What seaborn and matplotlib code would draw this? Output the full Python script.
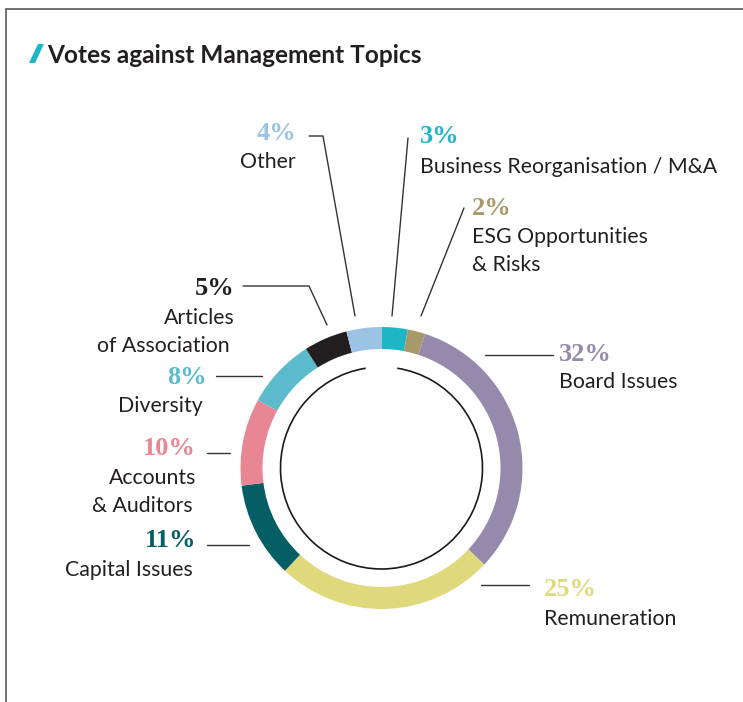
import numpy as np
import matplotlib
matplotlib.use("Agg")
import matplotlib.pyplot as plt
from matplotlib.patches import Arc, Polygon
import seaborn as sns

sns.set_style("white")
plt.rcParams['font.family'] = ['Lato', 'DejaVu Sans']

# data
categories = ["Business Reorganisation / M&A", "ESG Opportunities\n& Risks", "Board Issues",
              "Remuneration", "Capital Issues", "Accounts\n& Auditors", "Diversity",
              "Articles\nof Association", "Other"]
shares = [3, 2, 32, 25, 11, 10, 8, 5, 4]
pct_labels = ["3%", "2%", "32%", "25%", "11%", "10%", "8%", "5%", "4%"]
colors = ["#1fb5c9", "#a69a6a", "#958aab", "#e0d97c", "#055e63",
          "#e88694", "#5bbbcd", "#231f20", "#9cc3e3"]

W, H = 743, 702
CX, CY, R = 381.5, 468, 141   # ring centre / radius in px
TEXT = "#231f20"
LINE = "#333333"

# label layout (px, y down): pct anchor, name line anchors, leader line
layout = [
    dict(ha="left", pct=(420, 143), names=[(420, 173)], lead=[(408, 138), (392, 316)]),
    dict(ha="left", pct=(472, 215), names=[(472, 243), (472, 271)], lead=[(464, 208), (421, 316)]),
    dict(ha="left", pct=(559, 361), names=[(559, 388)], lead=[(553, 355), (485, 355)]),
    dict(ha="left", pct=(544, 596), names=[(544, 625)], lead=[(529, 585), (481, 585)]),
    dict(ha="right", pct=(196, 547), names=[(193, 576)], lead=[(207, 545), (249, 545)]),
    dict(ha="right", pct=(196, 455), names=[(196, 484), (193, 512)], lead=[(207, 453), (230, 453)]),
    dict(ha="right", pct=(207, 384), names=[(203, 412)], lead=[(216, 376), (262, 376)]),
    dict(ha="right", pct=(235, 295), names=[(235, 324), (230, 352)],
         lead=[(243, 286), (309, 286), (327, 325)]),
    dict(ha="right", pct=(296, 140), names=[(296, 168)], lead=[(309, 136), (323, 136), (355, 316)]),
]

fig = plt.figure(figsize=(W / 100, H / 100), dpi=100)
fig.patch.set_facecolor("white")

# donut
S = 160
pie_ax = fig.add_axes([(CX - S) / W, (H - CY - S) / H, 2 * S / W, 2 * S / H])
pal = sns.color_palette(colors)
pie_ax.pie(shares, colors=pal, startangle=90, counterclock=False, radius=R / S,
           wedgeprops=dict(width=22 / S, linewidth=0))
gap = 9
pie_ax.add_patch(Arc((0, 0), 2 * 101 / S, 2 * 101 / S, theta1=90 + gap, theta2=450 - gap,
                     color="#1a1a1a", lw=1.2))
pie_ax.set_xlim(-1, 1)
pie_ax.set_ylim(-1, 1)
pie_ax.axis("off")

# overlay in pixel coords
ax = fig.add_axes([0, 0, 1, 1], facecolor="none")
ax.set_xlim(0, W)
ax.set_ylim(H, 0)
ax.axis("off")

# frame lines
ax.plot([6, W], [9, 9], color="#666666", lw=1.3)
ax.plot([6, 6], [9, H], color="#666666", lw=1.3)

# title
ax.add_patch(Polygon([(29, 63), (35, 63), (44, 44), (38, 44)], closed=True, color="#1fb5c9", lw=0))
ax.text(47, 63, "Votes against Management Topics", fontsize=17.6, fontweight="bold",
        color=TEXT, va="baseline", ha="left")

for cat, pct, col, lay in zip(categories, pct_labels, colors, layout):
    ax.text(lay["pct"][0], lay["pct"][1], pct, fontsize=19, fontweight="bold",
            family=["Liberation Serif"], color=col, ha=lay["ha"], va="baseline")
    for line, (x, y) in zip(cat.split("\n"), lay["names"]):
        ax.text(x, y, line, fontsize=15.3, color=TEXT, ha=lay["ha"], va="baseline")
    xs, ys = zip(*lay["lead"])
    ax.plot(xs, ys, color=LINE, lw=1.0)

fig.savefig("out.png", dpi=100)
